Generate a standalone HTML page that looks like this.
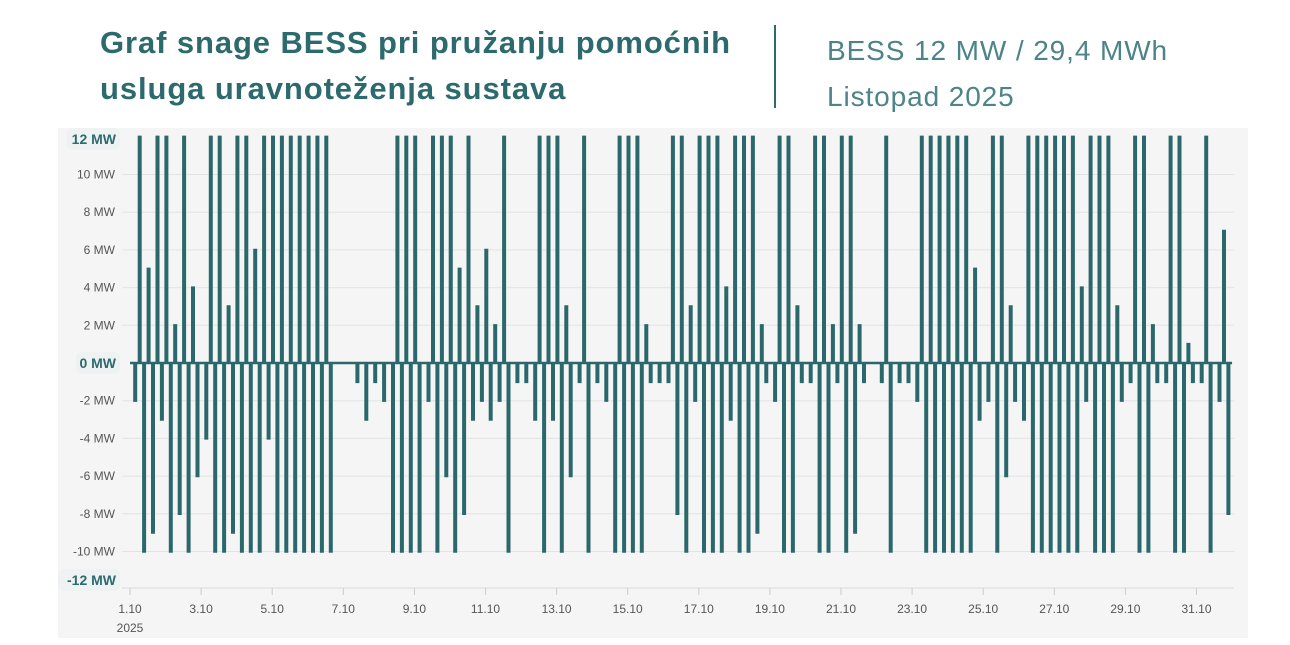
<!DOCTYPE html>
<html><head><meta charset="utf-8"><style>
body{margin:0;width:1290px;height:645px;background:#fff;font-family:"Liberation Sans",sans-serif;overflow:hidden;position:relative}
.t{position:absolute;left:100px;top:20px;font-size:31px;font-weight:bold;color:#2d6a6d;line-height:46px;letter-spacing:0.9px}
.div{position:absolute;left:774px;top:25px;width:2px;height:83px;background:#2d6a6d}
.r{position:absolute;left:827px;top:28px;font-size:28px;color:#4c8487;line-height:46px;letter-spacing:0.9px}
svg{position:absolute;left:0;top:0}
</style></head><body>
<div class="t">Graf snage BESS pri pružanju pomoćnih<br>usluga uravnoteženja sustava</div>
<div class="div"></div>
<div class="r">BESS 12 MW / 29,4 MWh<br>Listopad 2025</div>
<svg id="c" width="1290" height="645"></svg>
<script>
const yTicks=[10,8,6,4,2,-2,-4,-6,-8,-10];
const xLabels=["1.10","3.10","5.10","7.10","9.10","11.10","13.10","15.10","17.10","19.10","21.10","23.10","25.10","27.10","29.10","31.10"];
const power=[
0,-2,12,-10,5,-9,12,-3, 12,-10,2,-8,12,-10,4,-6, 0,-4,12,-10,12,-10,3,-9, 12,-10,12,-10,6,-10,12,-4,
12,-10,12,-10,12,-10,12,-10, 12,-10,12,-10,12,-10,0,0, 0,0,0,-1,0,-3,0,-1, 0,-2,0,-10,12,-10,12,-10,
12,-10,0,-2,12,-10,12,-6, 12,-10,5,-8,12,-3,3,-2, 6,-3,2,-2,12,-10,0,-1, 0,-1,0,-3,12,-10,12,-3,
12,-10,3,-6,0,-1,12,-10, 0,-1,0,-2,0,-10,12,-10, 12,-10,12,-10,2,-1,0,-1, 0,-1,12,-8,12,-10,3,-2,
12,-10,12,-10,12,-10,4,-3, 12,-10,12,-10,12,-9,2,-1, 0,-2,12,-10,12,-10,3,-1, 0,-1,12,-10,12,-10,2,-1,
12,-10,12,-9,2,-1,0,0, 0,-1,12,-10,0,-1,0,-1, 0,-2,12,-10,12,-10,12,-10, 12,-10,12,-10,12,-10,5,-3,
0,-2,12,-10,12,-6,3,-2, 0,-3,12,-10,12,-10,12,-10, 12,-10,12,-10,12,-10,4,-2, 12,-10,12,-10,12,-10,3,-2,
0,-1,12,-10,12,-10,2,-1, 0,-1,12,-10,12,-10,1,-1, 0,-1,12,-10,0,-2,7,-8];
const NS="http://www.w3.org/2000/svg",s=document.getElementById('c');
const X0=130,DAY=35.55,Y0=363,K=18.85;
const xs=d=>X0+d*DAY, ys=v=>Y0-v*K;
function el(t,a,txt){const e=document.createElementNS(NS,t);for(const k in a)e.setAttribute(k,a[k]);if(txt!==undefined)e.textContent=txt;s.appendChild(e);return e;}
let e=el('rect',{x:58,y:128,width:1190,height:510,fill:'#f5f5f5'});

for(const v of yTicks){
 e=el('line',{x1:122,x2:1234,y1:ys(v),y2:ys(v),stroke:'#e3e3e3','stroke-width':1});
 
 e=el('text',{x:115,y:ys(v)+4,'text-anchor':'end','font-size':12,fill:'#555'},v+' MW');
 
}
e=el('line',{x1:122,x2:1234,y1:588,y2:588,stroke:'#dcdcdc'});

xLabels.forEach((l,i)=>{const x=xs(i*2);
 e=el('line',{x1:x,x2:x,y1:588,y2:595,stroke:'#ccc'});
 
 e=el('text',{x:x,y:613,'text-anchor':'middle','font-size':12,fill:'#555'},l);
 
});
e=el('text',{x:xs(0),y:632,'text-anchor':'middle','font-size':12,fill:'#555'},'2025');

const step=31/power.length;
let d='M'+xs(0)+','+ys(0);
power.forEach((v,i)=>{const x=xs(i*step);
 d+='L'+x.toFixed(1)+','+ys(0)+'L'+x.toFixed(1)+','+ys(v).toFixed(1)+'L'+(x+1.6).toFixed(1)+','+ys(v).toFixed(1)+'L'+(x+1.6).toFixed(1)+','+ys(0);});
d+='L'+xs(31)+','+ys(0);
e=el('path',{d:d,fill:'none',stroke:'#2b686c','stroke-width':2.4,'stroke-linejoin':'miter'});

[[12,'12 MW',139],[0,'0 MW',363],[-12,'-12 MW',580]].forEach(([v,t,y])=>{
 const w=t.length*9+8;
 e=el('rect',{x:120-w,y:y-11,width:w,height:22,rx:6,fill:'#eef2f2'});
 
 e=el('text',{x:116,y:y+5,'text-anchor':'end','font-size':14,'font-weight':'bold',fill:'#2d6a6d'},t);
 
});
</script>
</body></html>
